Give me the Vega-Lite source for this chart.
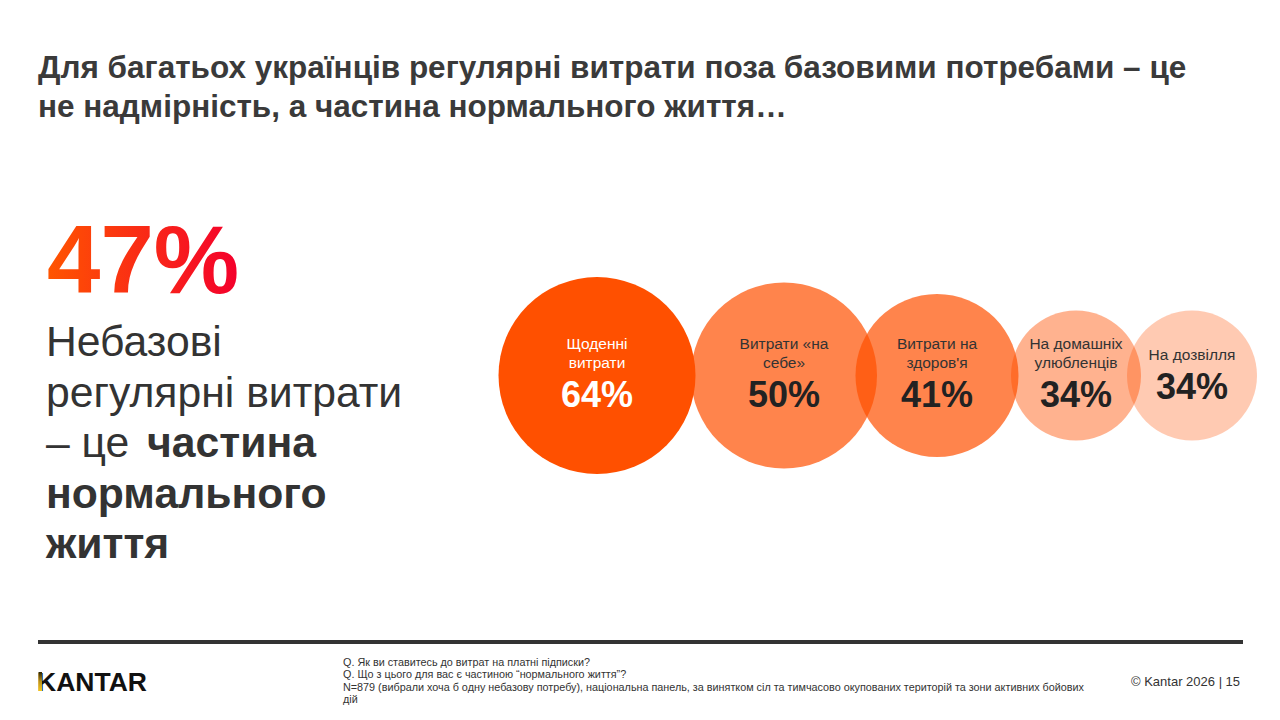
{
  "$schema": "https://vega.github.io/schema/vega-lite/v6.json",
  "width": 1280,
  "height": 720,
  "autosize": {"type": "none"},
  "padding": 0,
  "background": "white",
  "config": {
    "view": {"stroke": null},
    "font": "Liberation Sans",
    "text": {"font": "Liberation Sans", "lineBreak": "\n"}
  },
  "datasets": {
    "spending": [
      {"rank": 1, "category": "Щоденні витрати", "label": "Щоденні\nвитрати", "share": 0.64},
      {"rank": 2, "category": "Витрати «на себе»", "label": "Витрати «на\nсебе»", "share": 0.50},
      {"rank": 3, "category": "Витрати на здоров'я", "label": "Витрати на\nздоров'я", "share": 0.41},
      {"rank": 4, "category": "На домашніх улюбленців", "label": "На домашніх\nулюбленців", "share": 0.34},
      {"rank": 5, "category": "На дозвілля", "label": "На дозвілля", "share": 0.34}
    ],
    "notes": [
      {"block": "heading", "text": "Для багатьох українців регулярні витрати поза базовими потребами – це\nне надмірність, а частина нормального життя…"},
      {"block": "big", "text": "47%"},
      {"block": "lead", "text": "Небазові\nрегулярні витрати\n– це"},
      {"block": "leadBold1", "text": "частина"},
      {"block": "leadBold2", "text": "нормального\nжиття"},
      {"block": "logo", "text": "KANTAR"},
      {"block": "source", "text": "Q. Як ви ставитесь до витрат на платні підписки?\nQ. Що з цього для вас є частиною “нормального життя”?\nN=879 (вибрали хоча б одну небазову потребу), національна панель, за винятком сіл та тимчасово окупованих територій та зони активних бойових\nдій"},
      {"block": "copyright", "text": "© Kantar 2026 | 15"}
    ]
  },
  "layer": [
    {
      "data": {"name": "notes"},
      "layer": [
        {
          "transform": [{"filter": "datum.block === 'heading'"}],
          "mark": {"type": "text", "align": "left", "baseline": "alphabetic", "fontSize": 31.5, "fontWeight": "bold", "lineHeight": 39, "color": "#3a3a3a"},
          "encoding": {
            "x": {"datum": 38, "type": "quantitative", "scale": {"domain": [0, 1280], "nice": false, "zero": false}, "axis": null},
            "y": {"datum": 78, "type": "quantitative", "scale": {"domain": [0, 720], "nice": false, "zero": false, "reverse": true}, "axis": null},
            "text": {"field": "text"}
          }
        },
        {
          "transform": [{"filter": "datum.block === 'big'"}],
          "mark": {
            "type": "text", "align": "left", "baseline": "alphabetic", "fontSize": 96, "fontWeight": "bold",
            "fill": {"gradient": "linear", "x1": 0, "y1": 0, "x2": 1, "y2": 0,
              "stops": [{"offset": 0, "color": "#FF5500"}, {"offset": 1, "color": "#F4002C"}]}
          },
          "encoding": {
            "x": {"datum": 47, "type": "quantitative"},
            "y": {"datum": 293, "type": "quantitative"},
            "text": {"field": "text"}
          }
        },
        {
          "transform": [{"filter": "datum.block === 'lead'"}],
          "mark": {"type": "text", "align": "left", "baseline": "alphabetic", "fontSize": 42.7, "lineHeight": 50.5, "color": "#333333"},
          "encoding": {
            "x": {"datum": 46, "type": "quantitative"},
            "y": {"datum": 356, "type": "quantitative"},
            "text": {"field": "text"}
          }
        },
        {
          "transform": [{"filter": "datum.block === 'leadBold1'"}],
          "mark": {"type": "text", "align": "left", "baseline": "alphabetic", "fontSize": 42.7, "fontWeight": "bold", "color": "#333333"},
          "encoding": {
            "x": {"datum": 147, "type": "quantitative"},
            "y": {"datum": 457, "type": "quantitative"},
            "text": {"field": "text"}
          }
        },
        {
          "transform": [{"filter": "datum.block === 'leadBold2'"}],
          "mark": {"type": "text", "align": "left", "baseline": "alphabetic", "fontSize": 42.7, "fontWeight": "bold", "lineHeight": 50.5, "color": "#333333"},
          "encoding": {
            "x": {"datum": 46, "type": "quantitative"},
            "y": {"datum": 507.5, "type": "quantitative"},
            "text": {"field": "text"}
          }
        },
        {
          "transform": [{"filter": "datum.block === 'logo'"}],
          "mark": {"type": "rule", "strokeWidth": 4, "color": "#333333"},
          "encoding": {
            "x": {"datum": 38, "type": "quantitative"},
            "x2": {"datum": 1243},
            "y": {"datum": 642, "type": "quantitative"}
          }
        },
        {
          "transform": [{"filter": "datum.block === 'logo'"}],
          "mark": {"type": "text", "align": "left", "baseline": "alphabetic", "fontSize": 26.5, "fontWeight": "bold", "color": "#111111"},
          "encoding": {
            "x": {"datum": 37, "type": "quantitative"},
            "y": {"datum": 691, "type": "quantitative"},
            "text": {"field": "text"}
          }
        },
        {
          "transform": [{"filter": "datum.block === 'logo'"}],
          "mark": {
            "type": "rect",
            "fill": {"gradient": "linear", "x1": 0, "y1": 0, "x2": 0, "y2": 1,
              "stops": [{"offset": 0, "color": "#2a2200"}, {"offset": 0.5, "color": "#B8921C"}, {"offset": 1, "color": "#F5C81A"}]}
          },
          "encoding": {
            "x": {"datum": 38.5, "type": "quantitative"},
            "x2": {"datum": 42},
            "y": {"datum": 672, "type": "quantitative"},
            "y2": {"datum": 691}
          }
        },
        {
          "transform": [{"filter": "datum.block === 'source'"}],
          "mark": {"type": "text", "align": "left", "baseline": "alphabetic", "fontSize": 10.8, "lineHeight": 12.3, "color": "#333333"},
          "encoding": {
            "x": {"datum": 343, "type": "quantitative"},
            "y": {"datum": 666, "type": "quantitative"},
            "text": {"field": "text"}
          }
        },
        {
          "transform": [{"filter": "datum.block === 'copyright'"}],
          "mark": {"type": "text", "align": "left", "baseline": "alphabetic", "fontSize": 13, "color": "#333333"},
          "encoding": {
            "x": {"datum": 1131, "type": "quantitative"},
            "y": {"datum": 686, "type": "quantitative"},
            "text": {"field": "text"}
          }
        }
      ]
    },
    {
      "data": {"name": "spending"},
      "encoding": {
        "x": {"field": "rank", "type": "quantitative", "scale": {"domain": [1, 2, 3, 4, 5], "range": [597, 784, 937, 1076, 1192], "nice": false, "zero": false}, "axis": null}
      },
      "layer": [
        {
          "mark": {"type": "circle", "color": "#FF5000", "strokeWidth": 0},
          "encoding": {
            "y": {"datum": 375.5, "type": "quantitative"},
            "size": {"field": "share", "type": "quantitative", "scale": {"domain": [0.34, 0.41, 0.50, 0.64], "range": [16900, 26570, 34600, 38800]}, "legend": null},
            "opacity": {"field": "rank", "type": "quantitative", "scale": {"domain": [1, 2, 3, 4, 5], "range": [1, 0.7, 0.7, 0.44, 0.3]}, "legend": null}
          }
        },
        {
          "transform": [{"filter": "indexof(datum.label, '\\n') >= 0"}],
          "mark": {"type": "text", "align": "center", "baseline": "middle", "fontSize": 15.5, "lineHeight": 19},
          "encoding": {
            "y": {"datum": 343.5, "type": "quantitative"},
            "text": {"field": "label"},
            "color": {"condition": {"test": "datum.rank === 1", "value": "#FFFFFF"}, "value": "#333333"}
          }
        },
        {
          "transform": [{"filter": "indexof(datum.label, '\\n') < 0"}],
          "mark": {"type": "text", "align": "center", "baseline": "middle", "fontSize": 15.5},
          "encoding": {
            "y": {"datum": 355, "type": "quantitative"},
            "text": {"field": "label"},
            "color": {"value": "#333333"}
          }
        },
        {
          "transform": [{"filter": "indexof(datum.label, '\\n') >= 0"}],
          "mark": {"type": "text", "align": "center", "baseline": "middle", "fontSize": 36, "fontWeight": "bold"},
          "encoding": {
            "y": {"datum": 396, "type": "quantitative"},
            "text": {"field": "share", "type": "quantitative", "format": ".0%"},
            "color": {"condition": {"test": "datum.rank === 1", "value": "#FFFFFF"}, "value": "#222222"}
          }
        },
        {
          "transform": [{"filter": "indexof(datum.label, '\\n') < 0"}],
          "mark": {"type": "text", "align": "center", "baseline": "middle", "fontSize": 36, "fontWeight": "bold"},
          "encoding": {
            "y": {"datum": 388, "type": "quantitative"},
            "text": {"field": "share", "type": "quantitative", "format": ".0%"},
            "color": {"value": "#222222"}
          }
        }
      ]
    }
  ],
  "resolve": {"scale": {"x": "independent"}}
}
